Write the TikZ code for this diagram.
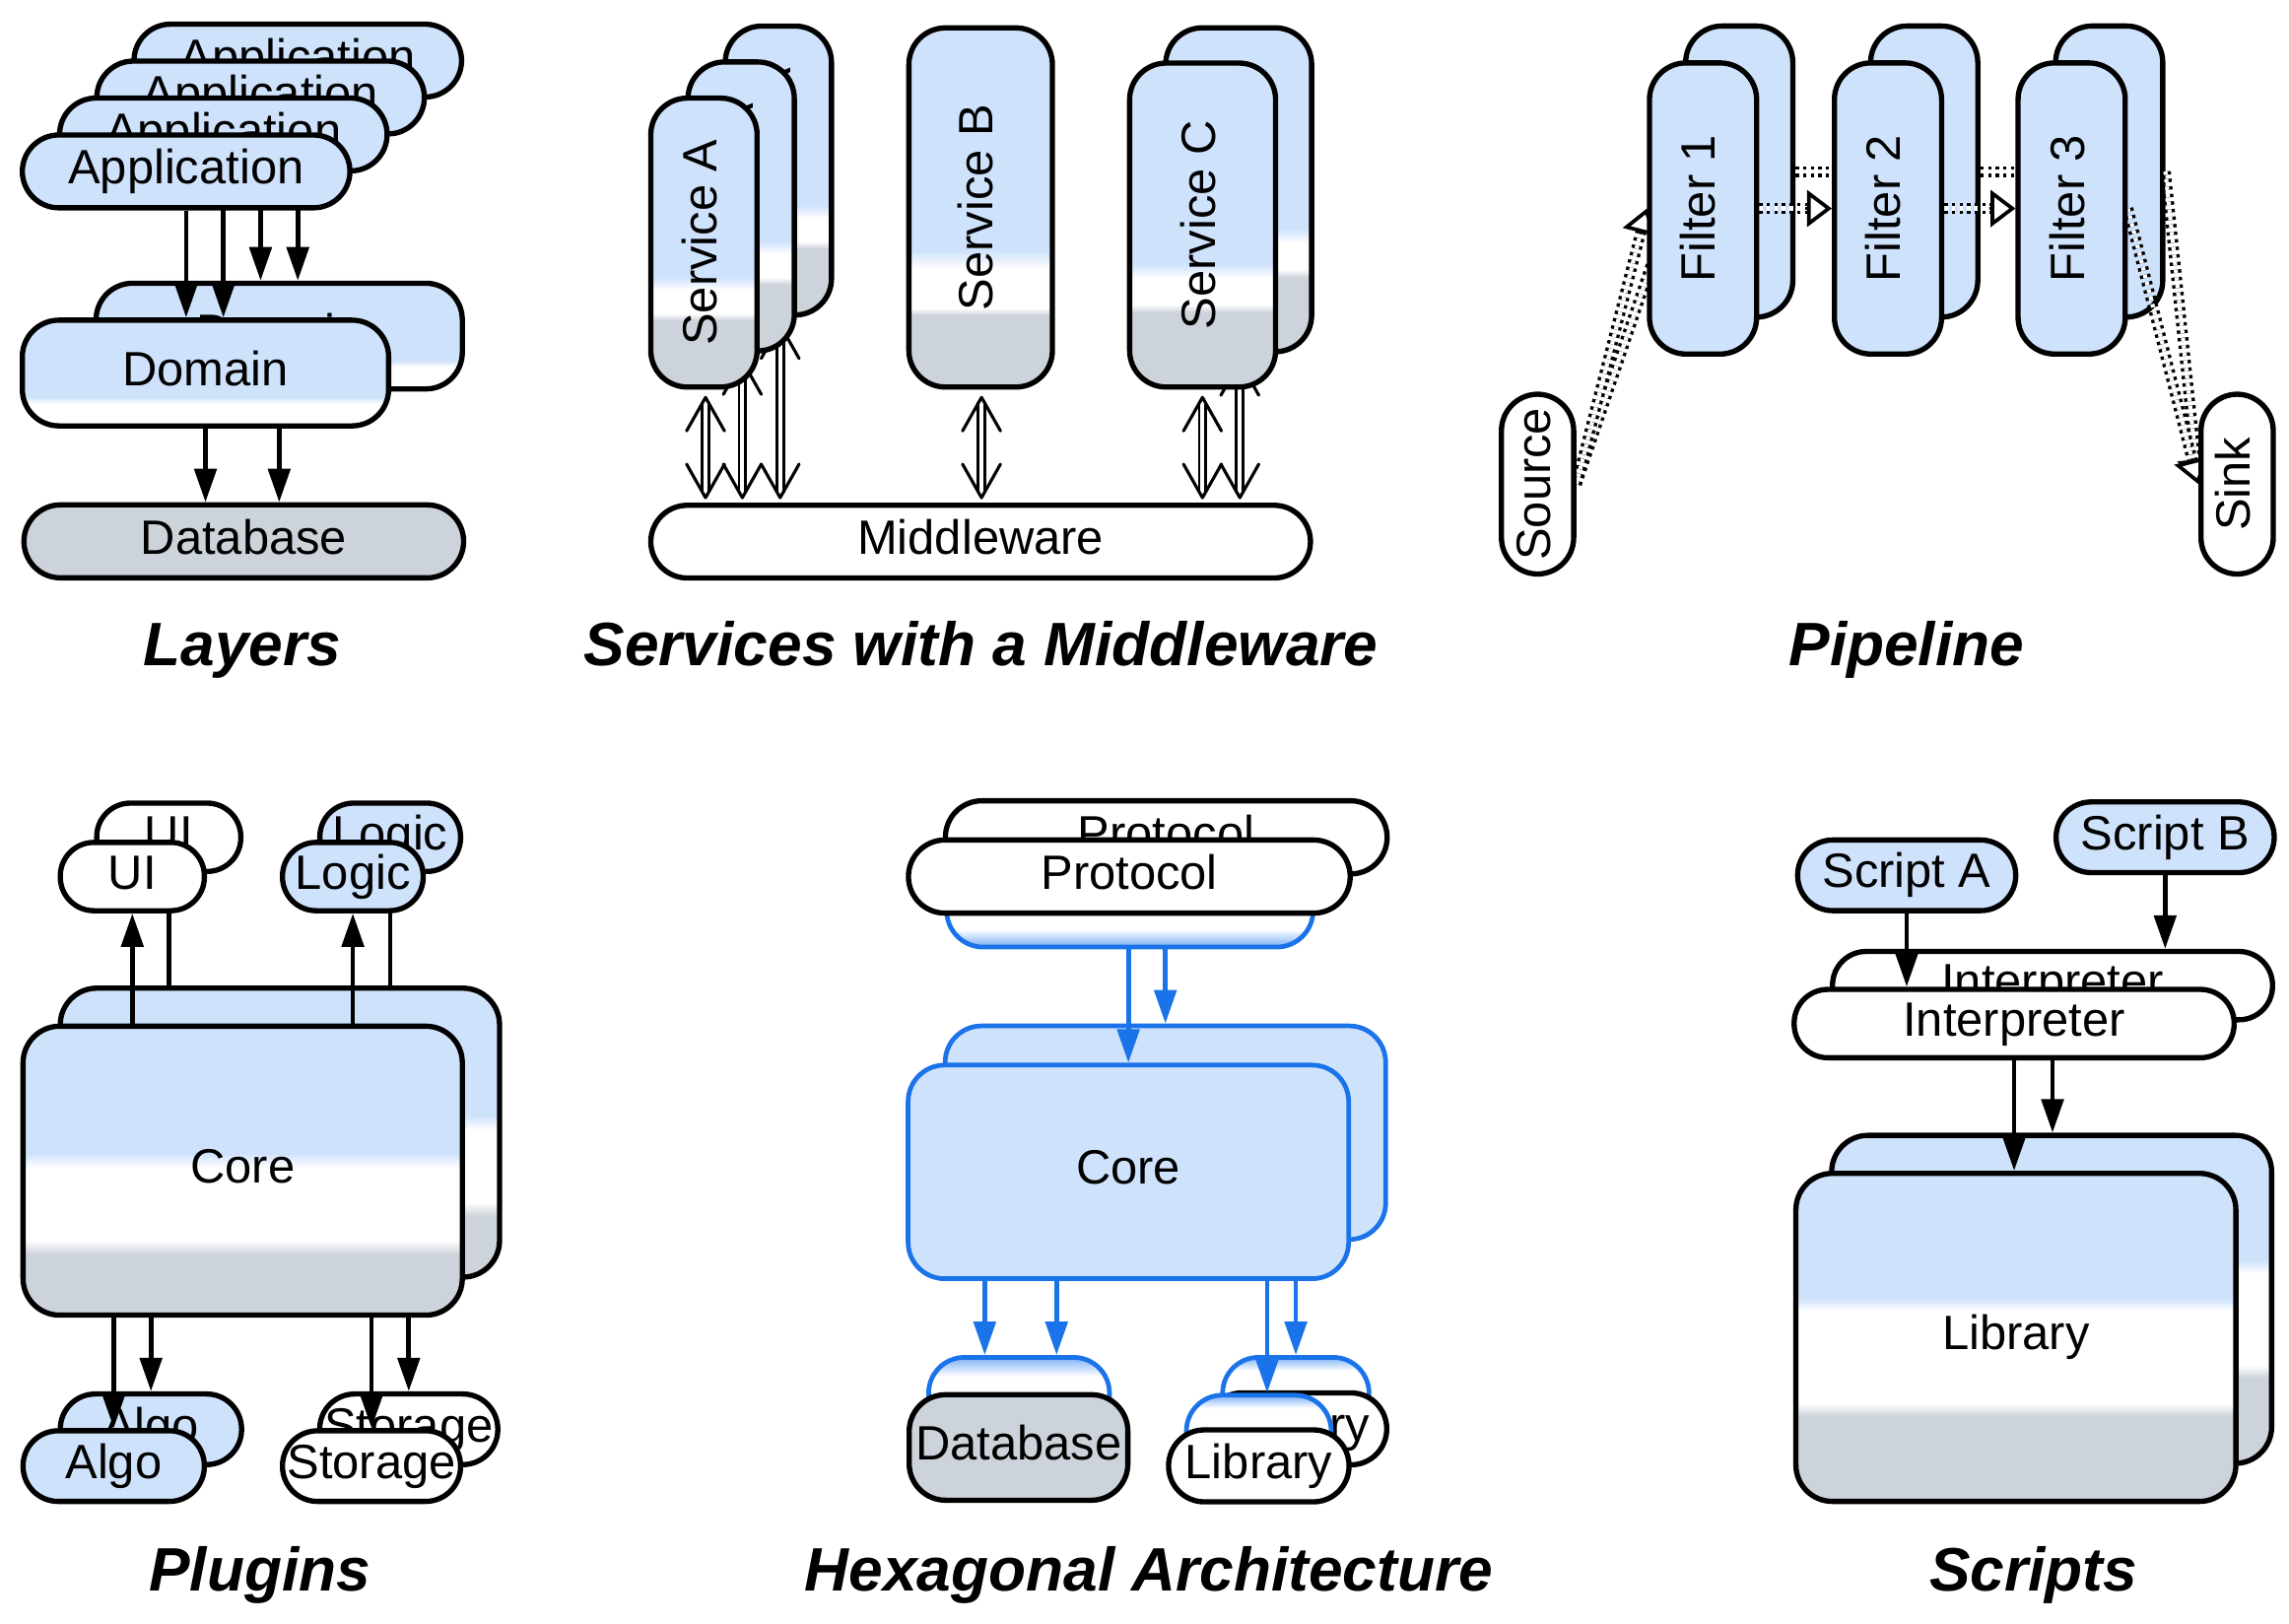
\documentclass[tikz,border=0pt]{standalone}
\usepackage{fontspec}
\setmainfont{Liberation Sans}
\usepackage{graphicx}
\usetikzlibrary{arrows.meta,calc}
\definecolor{lb}{RGB}{207,226,252}
\definecolor{gr}{RGB}{205,211,219}
\definecolor{hb}{RGB}{26,115,232}
\definecolor{hbl}{RGB}{140,186,248}
\pgfdeclareverticalshading{svcA}{100bp}{color(0bp)=(gr); color(36.5bp)=(gr); color(37.75bp)=(white); color(41.75bp)=(white); color(44bp)=(lb); color(100bp)=(lb)}
\pgfdeclareverticalshading{svcB}{100bp}{color(0bp)=(gr); color(35bp)=(gr); color(36bp)=(white); color(41.5bp)=(white); color(44bp)=(lb); color(100bp)=(lb)}
\pgfdeclareverticalshading{coresh}{100bp}{color(0bp)=(gr); color(35.5bp)=(gr); color(38bp)=(white); color(50.5bp)=(white); color(53bp)=(lb); color(100bp)=(lb)}
\pgfdeclareverticalshading{libsh}{100bp}{color(0bp)=(gr); color(38bp)=(gr); color(40bp)=(white); color(54bp)=(white); color(56bp)=(lb); color(100bp)=(lb)}
\pgfdeclareverticalshading{domsh}{100bp}{color(0bp)=(white); color(35.5bp)=(white); color(38.5bp)=(lb); color(100bp)=(lb)}
\pgfdeclareverticalshading{hexdown}{100bp}{color(0bp)=(white); color(66bp)=(white); color(74bp)=(hbl); color(100bp)=(hbl)}
\pgfdeclareverticalshading{hexup}{100bp}{color(0bp)=(hbl); color(27bp)=(hbl); color(37bp)=(white); color(100bp)=(white)}
\pgfdeclarelayer{lay1}
\pgfdeclarelayer{lay2}
\pgfsetlayers{lay1,lay2,main}
\newcommand{\rottxt}[1]{\rotatebox{90}{\vphantom{Alg}#1}}
\newcommand{\svcarrow}[2]{%
  \draw[dbl, shorten <=3.5pt, shorten >=3.5pt] (#1) -- (#2);
  \draw[barb] ($(#1)+(-13,23)$) -- (#1) -- ($(#1)+(13,23)$);
  \draw[barb] ($(#2)+(-13,-23)$) -- (#2) -- ($(#2)+(13,-23)$);
}
\newcommand{\pipeconn}[2]{%
  \draw[pipe, shorten >=15pt] (#1) -- (#2);
  \draw[pipetip] ($(#2)!18pt!(#1)$) -- (#2);
}
\begin{document}
\begin{tikzpicture}[x=1pt,y=-1pt,
  bx/.style={draw, line width=3.6pt, rounded corners=25pt, inner sep=0pt,
    font=\fontsize{33}{40}\selectfont, text height=23.8pt, text depth=6.6pt},
  vbx/.style={draw, line width=3.6pt, rounded corners=25pt, inner sep=0pt,
    font=\fontsize{33}{40}\selectfont},
  hbx/.style={bx, draw=hb, line width=3.2pt},
  arr/.style={line width=3.2pt, -{Triangle[length=23pt,width=15pt]}},
  harr/.style={arr, color=hb},
  dbl/.style={line width=1.9pt, double=white, double distance=2.7pt},
  barb/.style={line width=2.1pt, line join=round, line cap=round},
  pipe/.style={line width=2.3pt, double=white, double distance=2.8pt, dash pattern=on 2.3pt off 2.9pt},
  pipetip/.style={line width=2.5pt, -{Triangle[fill=white,length=17pt,width=25pt]}},
  title/.style={anchor=base, inner sep=0pt, font=\fontsize{42}{50}\selectfont\bfseries\itshape},
  appsz/.style={minimum width=224.4pt, minimum height=49.9pt},
  domsz/.style={minimum width=250.9pt, minimum height=72.4pt},
  sasz/.style={minimum width=72.8pt, minimum height=197.9pt},
  filsz/.style={minimum width=73.4pt, minimum height=199.4pt},
  endsz/.style={minimum width=49.5pt, minimum height=123.2pt},
]
\useasboundingbox (0,0) rectangle (1568,1112);

% ================= Layers =================
\node[bx, fill=gr, minimum width=301.2pt, minimum height=50pt] (db) at (167,370.8) {Database};
\node[bx, shade, shading=domsh, domsz] (dom2) at (191.25,230.2) {Domain};
\draw[arr] (dom2.south) -- (dom2.south |- db.north);
\node[bx, shade, shading=domsh, domsz] (dom1) at (140.75,255.5) {Domain};
\draw[arr] (dom1.south) -- (dom1.south |- db.north);
\node[bx, fill=lb, appsz] (app4) at (204,41.5) {Application};
\draw[arr] (app4.south) -- (app4.south |- dom2.north);
\node[bx, fill=lb, appsz] (app3) at (178.5,66.8) {Application};
\draw[arr] (app3.south) -- (app3.south |- dom2.north);
\node[bx, fill=lb, appsz] (app2) at (153,92.1) {Application};
\draw[arr] (app2.south) -- (app2.south |- dom1.north);
\node[bx, fill=lb, appsz] (app1) at (127.5,117.4) {Application};
\draw[arr] (app1.south) -- (app1.south |- dom1.north);
\node[title] (t1) at (166,456) {Layers};

% ================= Services =================
\node[bx, fill=white, minimum width=451.9pt, minimum height=49.8pt] (mw) at (671.75,371) {Middleware};
\node[vbx, shade, shading=svcA, sasz] (sa2) at (533.2,116.8) {\rottxt{Service A}};
\coordinate (a3t) at ([xshift=1.2pt,yshift=-5pt]sa2.south);
\coordinate (a3b) at ([yshift=3.4pt]a3t |- mw.north);
\svcarrow{a3t}{a3b}
\node[vbx, shade, shading=svcA, sasz] (sa1) at (507.7,141.4) {\rottxt{Service A}};
\coordinate (a2t) at ([xshift=0.8pt,yshift=-5pt]sa1.south);
\coordinate (a2b) at ([yshift=3.4pt]a2t |- mw.north);
\svcarrow{a2t}{a2b}
\node[vbx, shade, shading=svcA, sasz] (saf) at (482.2,166.15) {\rottxt{Service A}};
\coordinate (a1t) at ([xshift=1.1pt,yshift=-5.3pt]saf.south);
\coordinate (a1b) at ([yshift=3.4pt]a1t |- mw.north);
\svcarrow{a1t}{a1b}
\node[vbx, shade, shading=svcB, minimum width=98.3pt, minimum height=246pt] (sb) at (671.75,142.1) {\rottxt{Service B}};
\coordinate (bt) at ([xshift=0.6pt,yshift=-5.3pt]sb.south);
\coordinate (bb) at ([yshift=3.4pt]bt |- mw.north);
\svcarrow{bt}{bb}
\node[vbx, shade, shading=svcA, minimum width=100pt, minimum height=221.9pt] (scb) at (848.5,130) {\rottxt{Service C}};
\coordinate (c2t) at ([xshift=0.8pt,yshift=-5pt]scb.south);
\coordinate (c2b) at ([yshift=3.4pt]c2t |- mw.north);
\svcarrow{c2t}{c2b}
\node[vbx, shade, shading=svcA, minimum width=100pt, minimum height=221.9pt] (scf) at (823.8,154.15) {\rottxt{Service C}};
\coordinate (c1t) at ([xshift=-0.1pt,yshift=-5.3pt]scf.south);
\coordinate (c1b) at ([yshift=3.4pt]c1t |- mw.north);
\svcarrow{c1t}{c1b}
\node[title] (t2) at (672,456) {Services with a Middleware};

% ================= Pipeline =================
\begin{pgfonlayer}{lay1}
\node[vbx, fill=lb, filsz] (f1b) at (1191.4,117.5) {\rottxt{Filter 1}};
\node[vbx, fill=lb, filsz] (f2b) at (1318.1,117.5) {\rottxt{Filter 2}};
\node[vbx, fill=lb, filsz] (f3b) at (1444.8,117.5) {\rottxt{Filter 3}};
\end{pgfonlayer}
\node[vbx, fill=white, endsz] (src) at (1053.25,331.6) {\rottxt{Source}};
\node[vbx, fill=white, endsz] (snk) at (1532.45,331.6) {\rottxt{Sink}};
\node[vbx, fill=lb, filsz] (f1f) at (1166.6,142.8) {\rottxt{Filter 1}};
\node[vbx, fill=lb, filsz] (f2f) at (1293.3,142.8) {\rottxt{Filter 2}};
\node[vbx, fill=lb, filsz] (f3f) at (1419.1,142.8) {\rottxt{Filter 3}};
\begin{pgfonlayer}{lay2}
\pipeconn{src.east}{f1b.west}
\pipeconn{src.east}{f1f.west}
\pipeconn{f1b.east}{f2b.west}
\pipeconn{f1f.east}{f2f.west}
\pipeconn{f2b.east}{f3b.west}
\pipeconn{f2f.east}{f3f.west}
\pipeconn{f3b.east}{snk.west}
\pipeconn{f3f.east}{snk.west}
\end{pgfonlayer}
\node[title] (t3) at (1306,456) {Pipeline};

% ================= Plugins =================
\node[bx, fill=white, rounded corners=23pt, minimum width=98.7pt, minimum height=46.8pt] (uib) at (115.6,573.5) {UI};
\node[bx, fill=lb, rounded corners=23pt, minimum width=96.4pt, minimum height=46.8pt] (logb) at (267.3,573.5) {Logic};
\node[bx, fill=lb, rounded corners=24pt, minimum width=124.2pt, minimum height=48.4pt] (algb) at (103.4,979) {Algo};
\node[bx, fill=white, rounded corners=24pt, minimum width=122pt, minimum height=48.4pt] (stob) at (280,979) {Storage};
\node[bx, shade, shading=coresh, minimum width=300.9pt, minimum height=197.9pt] (coreb) at (191.75,775.8) {Core};
\draw[arr] (uib.south |- coreb.north) -- (uib.south);
\draw[arr] (logb.south |- coreb.north) -- (logb.south);
\draw[arr] (algb.north |- coreb.south) -- (algb.north);
\draw[arr] (stob.north |- coreb.south) -- (stob.north);
\node[bx, shade, shading=coresh, minimum width=300.9pt, minimum height=197.9pt] (coref) at (166.25,801.85) {Core};
\node[bx, fill=white, rounded corners=23pt, minimum width=98.7pt, minimum height=46.8pt] (uif) at (90.65,600.4) {UI};
\node[bx, fill=lb, rounded corners=23pt, minimum width=96.4pt, minimum height=46.8pt] (logf) at (241.7,600.4) {Logic};
\node[bx, fill=lb, rounded corners=24pt, minimum width=124.2pt, minimum height=48.4pt] (algf) at (77.9,1004.2) {Algo};
\node[bx, fill=white, rounded corners=24pt, minimum width=122pt, minimum height=48.4pt] (stof) at (254.5,1004.2) {Storage};
\draw[arr] (uif.south |- coref.north) -- (uif.south);
\draw[arr] (logf.south |- coref.north) -- (logf.south);
\draw[arr] (algf.north |- coref.south) -- (algf.north);
\draw[arr] (stof.north |- coref.south) -- (stof.north);
\node[title] (t4) at (178,1090) {Plugins};

% ================= Hexagonal =================
\node[bx, fill=white, minimum width=302.6pt, minimum height=50.1pt] (protb) at (798.9,573.55) {Protocol};
\node[hbx, shade, shading=hexup, minimum width=251pt, minimum height=50.6pt] (protbl) at (774,623.4) {};
\node[bx, fill=white, minimum width=302.6pt, minimum height=50.1pt] (protf) at (773.6,600.4) {Protocol};
\node[hbx, fill=lb, minimum width=301.8pt, minimum height=146.3pt] (corehb) at (798.3,775.85) {Core};
\node[hbx, fill=lb, minimum width=301.8pt, minimum height=146.3pt] (corehf) at (772.95,802.7) {Core};
\draw[harr] (corehb.north |- protbl.south) -- (corehb.north);
\draw[harr] (corehf.north |- protbl.south) -- (corehf.north);
\node[hbx, shade, shading=hexdown, rounded corners=24.5pt, minimum width=123.9pt, minimum height=72.6pt] (dbbl) at (698.05,966.05) {};
\node[bx, fill=gr, minimum width=149.8pt, minimum height=72.3pt] (dbh) at (697.7,991.45) {Database};
\node[hbx, shade, shading=hexdown, rounded corners=24.5pt, minimum width=100.3pt, minimum height=49.6pt] (libbbl) at (887.65,954.55) {};
\node[bx, fill=white, rounded corners=24.5pt, minimum width=123.6pt, minimum height=49.3pt] (libhb) at (888.1,978.7) {Library};
\node[hbx, shade, shading=hexdown, rounded corners=24.5pt, minimum width=99.2pt, minimum height=49.6pt] (libfbl) at (862.3,980.45) {};
\node[bx, fill=white, rounded corners=24.5pt, minimum width=123.6pt, minimum height=49.3pt] (libhf) at (862.3,1004.05) {Library};
\draw[harr] ([xshift=-23.5pt]dbbl.north |- corehf.south) -- ([xshift=-23.5pt]dbbl.north);
\draw[harr] ([xshift=25.7pt]dbbl.north |- corehf.south) -- ([xshift=25.7pt]dbbl.north);
\draw[harr] ([xshift=5.7pt]libfbl.north |- corehf.south) -- ([xshift=5.7pt]libfbl.north);
\draw[harr] (libbbl.north |- corehf.south) -- (libbbl.north);
\node[title] (t5) at (787,1090) {Hexagonal Architecture};

% ================= Scripts =================
\node[bx, fill=white, rounded corners=23pt, minimum width=301.4pt, minimum height=46.8pt] (intb) at (1406,675.1) {Interpreter};
\node[bx, shade, shading=libsh, minimum width=301.4pt, minimum height=224.7pt] (libb) at (1405.4,890) {Library};
\node[bx, fill=lb, rounded corners=24pt, minimum width=149.4pt, minimum height=48.4pt] (scrb) at (1483.15,573.5) {Script B};
\draw[arr] (intb.south) -- (intb.south |- libb.north);
\draw[arr] (scrb.south) -- (scrb.south |- intb.north);
\node[bx, fill=white, rounded corners=23pt, minimum width=301.4pt, minimum height=46.8pt] (intf) at (1379.7,701.1) {Interpreter};
\node[bx, shade, shading=libsh, minimum width=301.4pt, minimum height=224.7pt] (libf) at (1380.9,916.05) {Library};
\node[bx, fill=lb, rounded corners=24pt, minimum width=149.4pt, minimum height=48.4pt] (scra) at (1306.1,599.55) {Script A};
\draw[arr] (scra.south) -- (scra.south |- intf.north);
\draw[arr] (intf.south) -- (intf.south |- libf.north);
\node[title] (t6) at (1393,1090) {Scripts};
\end{tikzpicture}
\end{document}
